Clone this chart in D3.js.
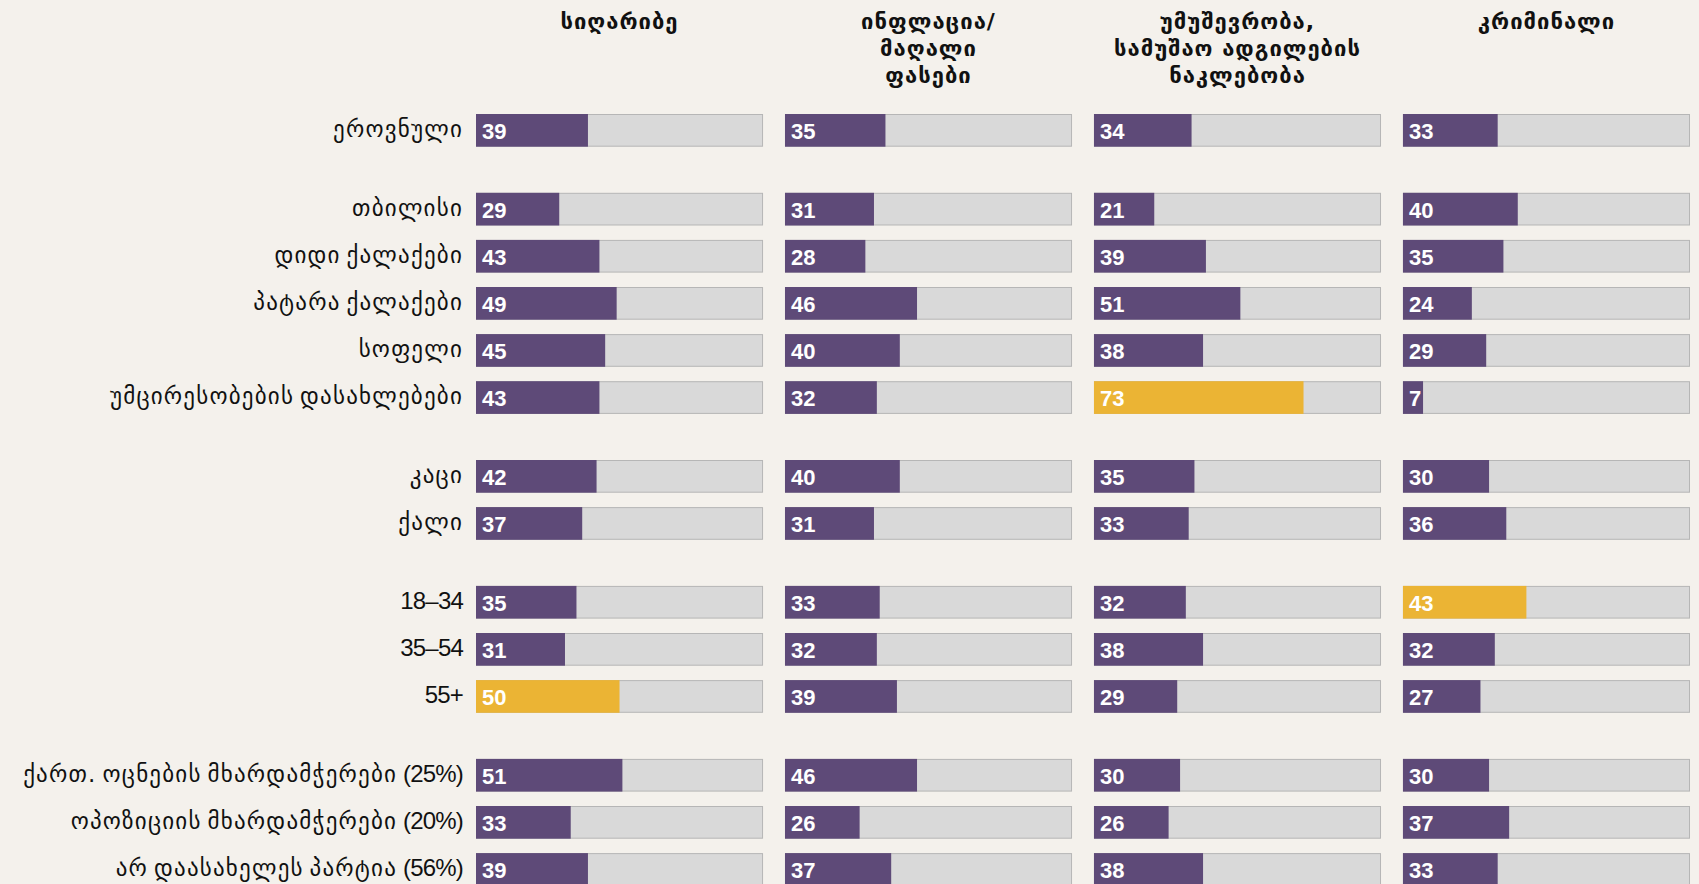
<!DOCTYPE html>
<html>
<head>
<meta charset="utf-8">
<script src="https://cdn.jsdelivr.net/npm/d3@7"></script>
<style>
  body { margin: 0; background: #f4f1ec; }
  svg { display: block; }
  .rowlabel { font-family: "DejaVu Sans", sans-serif; font-size: 23px; letter-spacing: 1.2px; fill: #111; }
  .rowlabel .latin { font-family: "Liberation Sans", Arial, sans-serif; font-size: 24px; letter-spacing: -0.8px; }
  .head { font-family: "DejaVu Sans", sans-serif; font-size: 22px; letter-spacing: 1px; font-weight: bold; fill: #111; }
  .value { font-family: "Liberation Sans", Arial, sans-serif; font-size: 22px; font-weight: bold; fill: #fff; }
</style>
</head>
<body>
<svg id="chart" width="1699" height="884"></svg>
<script>

// columns (topics), header lines per column
const topics = ["poverty", "inflation", "unemployment", "crime"];
const topicHeads = [
  ["სიღარიბე"],
  ["ინფლაცია/", "მაღალი", "ფასები"],
  ["უმუშევრობა,", "სამუშაო ადგილების", "ნაკლებობა"],
  ["კრიმინალი"]
];

// rows and the group each row belongs to
const rows = [
  "ეროვნული",
  "თბილისი", "დიდი ქალაქები", "პატარა ქალაქები", "სოფელი", "უმცირესობების დასახლებები",
  "კაცი", "ქალი",
  "18–34", "35–54", "55+",
  "ქართ. ოცნების მხარდამჭერები (25%)", "ოპოზიციის მხარდამჭერები (20%)", "არ დაასახელეს პარტია (56%)"
];
const rowGroup = [0, 1, 1, 1, 1, 1, 2, 2, 3, 3, 3, 4, 4, 4];

// values (%), one array per topic, same order as rows
const poverty      = [39, 29, 43, 49, 45, 43, 42, 37, 35, 31, 50, 51, 33, 39];
const inflation    = [35, 31, 28, 46, 40, 32, 40, 31, 33, 32, 39, 46, 26, 37];
const unemployment = [34, 21, 39, 51, 38, 73, 35, 33, 32, 38, 29, 30, 26, 38];
const crime        = [33, 40, 35, 24, 29,  7, 30, 36, 43, 32, 27, 30, 37, 33];

// highlighted cells: [row, topic]
const highlights = [
  ["უმცირესობების დასახლებები", "unemployment"],
  ["18–34", "crime"],
  ["55+", "poverty"]
];

const series = { poverty, inflation, unemployment, crime };

const purple = "#5e4a78";
const gold = "#ebb434";

const svg = d3.select("#chart");

const xCol = d3.scaleBand()
  .domain(topics)
  .range([476, 1690])
  .paddingInner(0.071)
  .paddingOuter(0);

const x = d3.scaleLinear()
  .domain([0, 100])
  .range([0, xCol.bandwidth()]);

const groupGap = 31.7;
const yRow = d3.scaleBand()
  .domain(rows)
  .range([106.8, 106.8 + rows.length * 47.1])
  .paddingInner(0.306)
  .paddingOuter(0.153);

const y = (r, i) => yRow(r) + rowGroup[i] * groupGap;

// row labels (georgian runs and digit/punct runs get different fonts)
const runs = s => s.match(/[\u10A0-\u10FF.,]+|[^\u10A0-\u10FF.,]+/g);

svg.append("g")
  .selectAll("text")
  .data(rows)
  .enter()
  .append("text")
  .attr("class", "rowlabel")
  .attr("x", 463)
  .attr("y", (r, i) => y(r, i) + yRow.bandwidth() / 2)
  .attr("dy", "0.3em")
  .attr("text-anchor", "end")
  .selectAll("tspan")
  .data(r => runs(r))
  .enter()
  .append("tspan")
  .attr("class", d => /[\u10A0-\u10FF]/.test(d) ? null : "latin")
  .text(d => d);

// column headers
topics.forEach((t, ti) => {
  svg.append("text")
    .attr("class", "head")
    .attr("text-anchor", "middle")
    .attr("x", xCol(t) + xCol.bandwidth() / 2)
    .attr("y", 29)
    .selectAll("tspan")
    .data(topicHeads[ti])
    .enter()
    .append("tspan")
    .attr("x", xCol(t) + xCol.bandwidth() / 2)
    .attr("dy", (d, i) => i === 0 ? 0 : 27)
    .text(d => d);
});

const isHi = (r, t) => highlights.some(h => h[0] === r && h[1] === t);

topics.forEach(t => {
  const col = svg.append("g")
    .attr("transform", `translate(${xCol(t)},0)`);

  const cells = col.selectAll("g")
    .data(rows.map((r, i) => ({ row: r, i: i, v: series[t][i] })))
    .enter()
    .append("g");

  cells.append("rect")
    .attr("x", 0.5)
    .attr("y", d => y(d.row, d.i) + 0.5)
    .attr("width", x(100) - 1)
    .attr("height", yRow.bandwidth() - 1)
    .attr("fill", "#d9d9d9")
    .attr("stroke", "#b6b6b6")
    .attr("stroke-width", 1);

  cells.append("rect")
    .attr("x", 0)
    .attr("y", d => y(d.row, d.i))
    .attr("width", d => x(d.v))
    .attr("height", yRow.bandwidth())
    .attr("fill", d => isHi(d.row, t) ? gold : purple);

  cells.append("text")
    .attr("class", "value")
    .attr("x", 6)
    .attr("y", d => y(d.row, d.i) + 25)
    .text(d => d.v);
});

</script>
</body>
</html>
